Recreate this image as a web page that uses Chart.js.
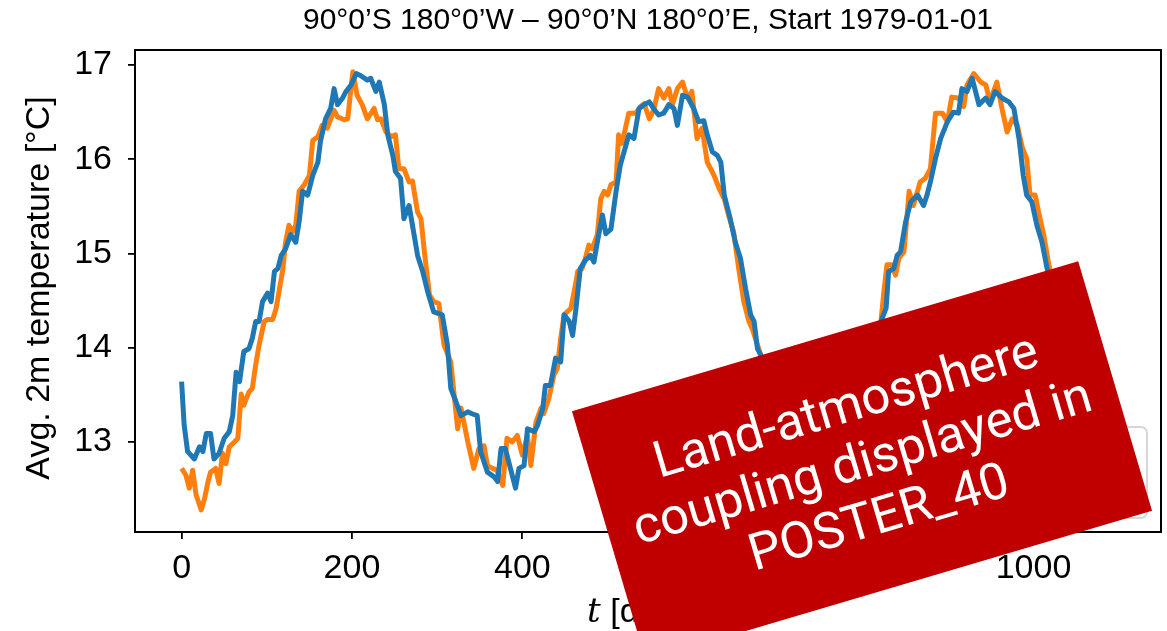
<!DOCTYPE html>
<html>
<head>
<meta charset="utf-8">
<script src="https://cdn.jsdelivr.net/npm/chart.js@4.4.1/dist/chart.umd.min.js"></script>
<style>
  html, body { margin: 0; padding: 0; background: #fff; }
  canvas { display: block; }
</style>
</head>
<body>
<canvas id="chart" width="1167" height="631"></canvas>
<script>
// values (days since 1979-01-01, degC)
const blueDays = [0, 3, 7, 15, 21, 25, 29, 34, 38, 44, 50, 56, 60, 64, 68, 73, 79, 83, 87, 91, 95, 101, 105, 109, 113, 117, 122, 128, 134, 138, 142, 148, 154, 160, 163, 169, 175, 179, 183, 189, 193, 199, 205, 210, 218, 222, 228, 232, 238, 242, 248, 251, 257, 261, 267, 271, 277, 283, 289, 296, 306, 312, 316, 322, 328, 336, 341, 347, 351, 359, 367, 371, 375, 380, 386, 392, 396, 402, 406, 414, 418, 424, 427, 433, 439, 445, 449, 455, 459, 463, 468, 474, 480, 484, 488, 494, 498, 504, 510, 515, 521, 525, 531, 537, 543, 549, 554, 560, 566, 572, 578, 582, 588, 594, 601, 607, 613, 617, 623, 629, 633, 637, 644, 650, 656, 662, 668, 672, 676, 680, 690, 700, 710, 720, 730, 740, 750, 760, 770, 780, 790, 800, 810, 821, 827, 830, 836, 840, 844, 850, 856, 864, 871, 875, 879, 885, 891, 899, 906, 912, 916, 922, 928, 936, 944, 949, 955, 963, 971, 977, 983, 988, 992, 998, 1004, 1010, 1016, 1030, 1045, 1060, 1075, 1090];
const blueTemp = [13.64, 13.18, 12.90, 12.82, 12.95, 12.90, 13.09, 13.09, 12.82, 12.88, 13.04, 13.11, 13.28, 13.74, 13.64, 13.96, 13.99, 14.10, 14.28, 14.28, 14.49, 14.58, 14.49, 14.81, 14.84, 14.98, 15.05, 15.20, 15.12, 15.34, 15.66, 15.62, 15.83, 15.97, 16.19, 16.43, 16.54, 16.75, 16.58, 16.65, 16.72, 16.79, 16.91, 16.89, 16.84, 16.86, 16.72, 16.82, 16.58, 16.26, 16.04, 15.87, 15.80, 15.37, 15.51, 15.30, 14.98, 14.81, 14.59, 14.38, 14.35, 14.03, 13.57, 13.43, 13.28, 13.32, 13.30, 13.28, 12.90, 12.68, 12.63, 12.58, 12.93, 12.93, 12.72, 12.51, 12.72, 12.75, 13.14, 13.11, 13.18, 13.36, 13.60, 13.60, 13.89, 13.85, 14.35, 14.28, 14.13, 14.42, 14.84, 14.93, 14.98, 14.91, 15.12, 15.41, 15.21, 15.26, 15.66, 15.94, 16.13, 16.26, 16.22, 16.54, 16.58, 16.61, 16.54, 16.47, 16.49, 16.58, 16.54, 16.36, 16.68, 16.66, 16.54, 16.40, 16.41, 16.26, 16.08, 16.04, 15.97, 15.62, 15.37, 15.12, 14.95, 14.63, 14.35, 14.28, 13.99, 13.92, 13.60, 13.30, 13.00, 12.85, 12.70, 12.60, 12.75, 12.70, 12.95, 13.20, 13.50, 13.70, 13.95, 14.28, 14.42, 14.81, 14.84, 14.98, 15.02, 15.34, 15.55, 15.62, 15.51, 15.62, 15.76, 16.01, 16.22, 16.40, 16.50, 16.49, 16.75, 16.72, 16.86, 16.58, 16.65, 16.58, 16.72, 16.65, 16.61, 16.54, 16.22, 15.83, 15.62, 15.55, 15.30, 15.12, 14.84, 14.40, 14.00, 13.60, 13.20, 12.90];

const orangeDays = [0, 5, 9, 13, 17, 23, 27, 31, 34, 40, 44, 48, 52, 56, 62, 66, 70, 73, 79, 83, 87, 91, 97, 101, 107, 111, 115, 119, 122, 126, 130, 134, 138, 144, 150, 154, 160, 165, 171, 179, 183, 191, 195, 201, 206, 212, 218, 226, 230, 234, 240, 246, 251, 255, 261, 267, 271, 277, 281, 285, 291, 296, 302, 308, 316, 324, 328, 336, 343, 349, 355, 359, 365, 370, 377, 382, 388, 394, 400, 406, 410, 416, 422, 425, 431, 437, 441, 445, 449, 457, 463, 465, 470, 474, 478, 482, 488, 492, 496, 500, 504, 510, 513, 517, 525, 533, 539, 543, 549, 554, 560, 566, 572, 576, 582, 588, 594, 599, 605, 611, 617, 625, 631, 637, 642, 648, 654, 660, 666, 670, 676, 680, 690, 700, 710, 720, 730, 740, 750, 760, 770, 780, 790, 800, 810, 821, 824, 828, 834, 838, 842, 848, 854, 859, 867, 873, 879, 885, 893, 899, 904, 912, 918, 922, 930, 938, 944, 949, 957, 963, 969, 975, 981, 987, 992, 996, 1002, 1006, 1012, 1018, 1020, 1030, 1045, 1060, 1075, 1090];
const orangeTemp = [12.72, 12.65, 12.51, 12.70, 12.44, 12.28, 12.40, 12.58, 12.68, 12.72, 12.56, 12.88, 12.77, 12.95, 13.00, 13.04, 13.51, 13.39, 13.53, 13.57, 13.82, 14.03, 14.28, 14.30, 14.30, 14.42, 14.63, 14.84, 15.12, 15.30, 15.23, 15.30, 15.66, 15.73, 15.83, 16.20, 16.24, 16.36, 16.33, 16.52, 16.45, 16.42, 16.43, 16.93, 16.68, 16.58, 16.43, 16.54, 16.42, 16.43, 16.29, 16.24, 16.26, 15.90, 15.90, 15.76, 15.77, 15.44, 15.37, 15.02, 14.56, 14.49, 14.47, 14.03, 13.85, 13.14, 13.36, 13.00, 12.72, 12.93, 12.96, 12.75, 12.72, 12.70, 12.54, 13.04, 13.00, 13.07, 12.86, 13.07, 12.75, 13.21, 13.36, 13.30, 13.46, 13.71, 13.78, 14.10, 14.35, 14.42, 14.70, 14.81, 14.84, 14.95, 15.09, 15.05, 15.20, 15.58, 15.66, 15.62, 15.73, 15.76, 16.26, 16.17, 16.49, 16.49, 16.56, 16.59, 16.43, 16.52, 16.75, 16.65, 16.75, 16.58, 16.75, 16.82, 16.65, 16.72, 16.22, 16.33, 15.97, 15.83, 15.69, 15.58, 15.41, 15.23, 14.84, 14.49, 14.28, 14.20, 14.03, 13.92, 13.55, 13.20, 12.95, 12.80, 12.75, 12.65, 12.80, 12.75, 13.00, 13.25, 13.55, 13.75, 14.00, 14.28, 14.56, 14.88, 14.88, 14.77, 14.95, 15.02, 15.66, 15.51, 15.76, 15.80, 15.90, 16.49, 16.49, 16.40, 16.66, 16.65, 16.56, 16.79, 16.91, 16.82, 16.79, 16.61, 16.82, 16.54, 16.29, 16.43, 16.36, 16.12, 16.01, 15.62, 15.62, 15.44, 15.20, 14.88, 14.81, 14.45, 14.00, 13.55, 13.20, 12.95];

const xTicks = [0, 200, 400, 600, 800, 1000];
const yTicks = [13, 14, 15, 16, 17];

const titleText = '90\u00b00\u2019S 180\u00b00\u2019W \u2013 90\u00b00\u2019N 180\u00b00\u2019E, Start 1979-01-01';
const yLabel = 'Avg. 2m temperature [\u00b0C]';
const bannerLines = ['Land-atmosphere', 'coupling displayed in', 'POSTER_40'];

const FONT = '"Liberation Sans", Arial, sans-serif';

function toPoints(days, temps) {
  return days.map((d, i) => ({ x: d, y: temps[i] }));
}

// frame, legend box, titles and the red banner
const decorations = {
  id: 'decorations',
  afterDatasetsDraw(chart) {
    const ctx = chart.ctx;
    // legend box (mostly hidden by the banner)
    ctx.save();
    ctx.fillStyle = 'rgba(255,255,255,0.8)';
    ctx.strokeStyle = '#d6d6d6';
    ctx.lineWidth = 2;
    ctx.beginPath();
    ctx.roundRect(880, 427, 267, 91, 6);
    ctx.fill();
    ctx.stroke();
    ctx.restore();
  },
  afterDraw(chart) {
    const ctx = chart.ctx;
    const a = chart.chartArea;
    ctx.save();
    // axes frame
    ctx.strokeStyle = '#000';
    ctx.lineWidth = 2;
    ctx.strokeRect(a.left, a.top, a.right - a.left, a.bottom - a.top);

    // title
    ctx.fillStyle = '#000';
    ctx.font = '30px ' + FONT;
    ctx.textAlign = 'center';
    ctx.textBaseline = 'middle';
    ctx.fillText(titleText, (a.left + a.right) / 2, 21);

    // y label
    ctx.save();
    ctx.translate(40, (a.top + a.bottom) / 2 - 3);
    ctx.rotate(-Math.PI / 2);
    ctx.font = '34px ' + FONT;
    ctx.fillText(yLabel, 0, 0);
    ctx.restore();

    // x label: italic t [days]
    ctx.textAlign = 'left';
    ctx.textBaseline = 'alphabetic';
    ctx.font = 'italic 34px "DejaVu Serif", serif';
    const tW = ctx.measureText('t').width;
    ctx.font = '34px ' + FONT;
    const rest = ' [days]';
    const rW = ctx.measureText(rest).width;
    const x0 = (a.left + a.right) / 2 - (tW + rW) / 2 - 4;
    ctx.font = 'italic 34px "DejaVu Serif", serif';
    ctx.fillText('t', x0, 622);
    ctx.font = '34px ' + FONT;
    ctx.fillText(rest, x0 + tW, 622);

    // banner
    ctx.translate(862, 461);
    ctx.rotate(-16.5 * Math.PI / 180);
    ctx.fillStyle = '#c00000';
    ctx.fillRect(-264, -130, 528, 260);
    ctx.fillStyle = '#fff';
    ctx.font = '51px Roboto, ' + FONT;
    ctx.textAlign = 'center';
    ctx.textBaseline = 'middle';
    bannerLines.forEach((line, i) => {
      ctx.fillText(line, 0, (i - 1) * 58 + 4);
    });
    ctx.restore();
  }
};

new Chart(document.getElementById('chart'), {
  type: 'line',
  data: {
    datasets: [
      {
        data: toPoints(blueDays, blueTemp),
        borderColor: '#1f77b4',
        borderWidth: 5,
        pointRadius: 0,
        borderJoinStyle: 'round',
        fill: false,
        tension: 0
      },
      {
        data: toPoints(orangeDays, orangeTemp),
        borderColor: '#ff7f0e',
        borderWidth: 5,
        pointRadius: 0,
        borderJoinStyle: 'round',
        fill: false,
        tension: 0
      }
    ]
  },
  options: {
    responsive: false,
    animation: false,
    devicePixelRatio: 1,
    layout: { padding: { top: 50, right: 6, left: 0, bottom: 0 } },
    plugins: {
      legend: { display: false },
      tooltip: { enabled: false }
    },
    scales: {
      x: {
        type: 'linear',
        min: -54.7,
        max: 1149.7,
        afterBuildTicks: axis => { axis.ticks = xTicks.map(v => ({ value: v })); },
        afterFit: axis => { axis.height = 99; },
        border: { display: false },
        grid: { drawOnChartArea: false, drawTicks: true, tickLength: 7, color: '#000', lineWidth: 1.8 },
        ticks: { color: '#000', padding: 9, maxRotation: 0, font: { family: FONT, size: 34 }, callback: v => String(v) }
      },
      y: {
        type: 'linear',
        min: 12.045,
        max: 17.16,
        afterBuildTicks: axis => { axis.ticks = yTicks.map(v => ({ value: v })); },
        afterFit: axis => { axis.width = 135; },
        border: { display: false },
        grid: { drawOnChartArea: false, drawTicks: true, tickLength: 7, color: '#000', lineWidth: 1.8 },
        ticks: { color: '#000', padding: 16, font: { family: FONT, size: 34 }, callback: v => String(v) }
      }
    }
  },
  plugins: [decorations]
});
</script>
</body>
</html>
